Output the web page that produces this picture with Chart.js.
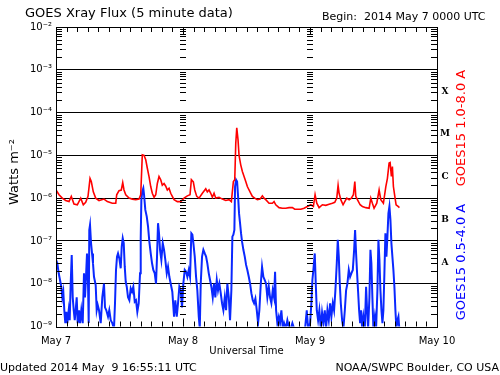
<!DOCTYPE html>
<html><head><meta charset="utf-8">
<script src="https://cdn.jsdelivr.net/npm/chart.js@4/dist/chart.umd.min.js"></script>
<style>html,body{margin:0;padding:0;background:#fff}</style>
</head><body>
<canvas id="c" width="500" height="375"></canvas>
<script>
// ---- labels / ticks ----
const dayLabels = ['May 7', 'May 8', 'May 9', 'May 10'];
const decadeTicks = [1e-9, 1e-8, 1e-7, 1e-6, 1e-5, 1e-4, 1e-3, 1e-2];
const flareClassNames = ['X', 'M', 'C', 'B', 'A'];
const flareClassLower = [1e-4, 1e-5, 1e-6, 1e-7, 1e-8];

// ---- GOES15 1.0-8.0 A (long channel), hours since 2014 May 7 00:00 UTC ----
const longTime = [
 0.00,0.57,1.19,1.83,2.46,2.89,3.40,4.03,4.67,5.16,
 5.61,6.05,6.43,6.67,7.05,7.50,8.13,9.07,9.70,10.64,
 11.29,11.47,11.91,12.34,12.61,12.85,13.18,13.80,14.42,15.07,
 15.69,16.01,16.31,16.64,16.96,17.26,17.58,17.90,18.20,18.53,
 18.85,19.15,19.47,19.79,20.09,20.42,20.74,21.04,21.36,21.68,
 21.98,22.31,22.93,23.57,24.20,24.82,25.33,25.58,25.95,26.22,
 26.60,27.03,27.66,28.30,28.60,28.92,29.24,29.55,29.87,30.19,
 30.81,31.44,32.08,32.70,33.14,33.52,33.78,33.97,34.16,34.40,
 34.59,34.91,35.22,35.54,35.86,36.16,36.48,36.81,37.11,37.56,
 38.05,38.56,39.00,39.32,39.64,40.26,40.89,41.21,41.53,42.15,
 42.78,43.42,44.05,44.67,45.12,45.61,46.26,46.88,47.50,48.15,
 48.64,48.96,49.28,49.72,50.34,50.98,51.61,52.23,52.68,53.06,
 53.31,53.50,53.82,54.25,54.57,54.95,55.39,55.82,56.20,56.47,
 56.65,56.96,57.47,57.90,58.55,59.17,59.49,59.79,60.11,60.62,
 61.06,61.38,61.87,62.33,62.63,62.95,63.14,63.38,63.57,63.76,
 64.03,64.27,64.65,64.90
];
const longFlux = [
 1.56e-6,1.2e-6,1.0e-6,0.88e-6,0.83e-6,1.1e-6,0.73e-6,0.7e-6,1.0e-6,0.7e-6,
 0.8e-6,1.1e-6,2.9e-6,2.45e-6,1.4e-6,1.0e-6,0.88e-6,0.95e-6,0.83e-6,0.76e-6,
 0.76e-6,1.2e-6,1.5e-6,1.55e-6,2.3e-6,1.55e-6,1.2e-6,1.0e-6,0.95e-6,0.92e-6,
 0.95e-6,1.2e-6,1.03e-5,1.0e-5,7.9e-6,5.0e-6,3.2e-6,1.87e-6,1.3e-6,1.05e-6,
 1.2e-6,2.2e-6,3.2e-6,2.7e-6,2.0e-6,2.2e-6,1.9e-6,1.55e-6,1.7e-6,1.3e-6,
 1.1e-6,0.92e-6,0.83e-6,0.83e-6,1.0e-6,1.13e-6,1.2e-6,2.7e-6,2.4e-6,1.55e-6,
 1.1e-6,1.0e-6,1.3e-6,1.65e-6,1.4e-6,1.55e-6,1.3e-6,1.05e-6,1.3e-6,1.0e-6,
 1.05e-6,0.95e-6,0.88e-6,0.92e-6,0.83e-6,2.45e-6,2.7e-6,1.9e-5,4.4e-5,2.3e-5,
 1.0e-5,6.0e-6,4.2e-6,3.2e-6,2.45e-6,1.87e-6,1.55e-6,1.3e-6,1.1e-6,1.0e-6,
 0.92e-6,0.95e-6,1.13e-6,1.0e-6,0.92e-6,0.76e-6,0.76e-6,0.83e-6,0.7e-6,0.6e-6,
 0.58e-6,0.58e-6,0.6e-6,0.6e-6,0.55e-6,0.55e-6,0.55e-6,0.58e-6,0.64e-6,0.7e-6,
 0.64e-6,1.2e-6,0.76e-6,0.6e-6,0.7e-6,0.68e-6,0.72e-6,0.76e-6,0.8e-6,1.0e-6,
 2.0e-6,1.3e-6,0.92e-6,0.7e-6,0.83e-6,1.0e-6,0.92e-6,1.0e-6,1.2e-6,2.45e-6,
 1.1e-6,0.92e-6,0.7e-6,0.64e-6,0.6e-6,0.58e-6,1.0e-6,0.76e-6,0.58e-6,0.76e-6,
 1.55e-6,0.92e-6,0.76e-6,1.87e-6,2.9e-6,6.6e-6,6.8e-6,3.2e-6,5.5e-6,1.87e-6,
 1.1e-6,0.7e-6,0.64e-6,0.6e-6
];

// ---- GOES15 0.5-4.0 A (short channel) ----
const shortTime = [
 0.00,0.25,0.51,0.76,1.00,1.19,1.38,1.57,1.76,1.95,
 2.14,2.40,2.59,2.78,2.97,3.16,3.35,3.54,3.72,3.91,
 4.10,4.35,4.54,4.78,5.05,5.29,5.48,5.67,5.86,6.05,
 6.18,6.29,6.43,6.62,6.81,6.99,7.18,7.50,7.69,7.88,
 8.13,8.45,8.75,9.07,9.26,9.51,9.83,10.07,10.34,10.64,
 10.96,11.15,11.34,11.53,11.72,11.97,12.23,12.42,12.61,12.80,
 12.99,13.18,13.37,13.61,13.86,14.12,14.37,14.61,14.88,15.12,
 15.37,15.63,15.88,16.01,16.13,16.31,16.50,16.64,16.88,17.15,
 17.39,17.64,17.90,18.15,18.39,18.66,18.90,19.09,19.28,19.47,
 19.66,19.91,20.17,20.42,20.66,20.93,21.17,21.42,21.68,21.98,
 22.31,22.55,22.82,23.06,23.31,23.57,23.82,24.06,24.33,24.58,
 24.82,25.09,25.33,25.58,25.77,25.96,26.22,26.47,26.71,26.98,
 27.17,27.35,27.60,27.85,28.11,28.36,28.60,28.87,29.11,29.36,
 29.62,29.87,30.11,30.38,30.62,30.87,31.13,31.38,31.63,31.89,
 32.14,32.38,32.65,32.89,33.14,33.33,33.52,33.71,33.84,34.03,
 34.22,34.41,34.59,34.78,34.97,35.16,35.41,35.67,35.92,36.16,
 36.43,36.68,36.92,37.18,37.43,37.68,37.94,38.19,38.43,38.70,
 38.94,39.19,39.45,39.70,39.94,40.21,40.45,40.70,40.96,41.21,
 41.40,41.59,41.83,42.10,42.34,42.59,42.86,43.10,43.42,43.72,
 44.05,44.37,44.67,44.99,45.37,45.94,46.50,47.07,47.39,47.64,
 48.02,48.26,48.45,48.64,48.90,49.09,49.28,49.53,49.77,50.04,
 50.28,50.53,50.79,51.04,51.29,51.55,51.80,52.04,52.31,52.55,
 52.80,53.06,53.25,53.44,53.63,53.82,54.07,54.31,54.58,54.82,
 55.07,55.33,55.58,55.82,56.09,56.34,56.52,56.71,56.90,57.09,
 57.28,57.47,57.66,57.85,58.09,58.36,58.60,58.79,58.98,59.23,
 59.42,59.60,59.79,59.98,60.25,60.49,60.74,60.93,61.12,61.31,
 61.50,61.69,61.87,62.06,62.25,62.44,62.63,62.82,63.01,63.20,
 63.38,63.57,63.76,63.95,64.14,64.33,64.52,64.71,64.90
];
const shortFlux = [
 3.6e-8,3.0e-8,1.75e-8,1.22e-8,8.5e-9,4.8e-9,6.5e-9,2.4e-9,1.2e-9,2.2e-9,
 1.2e-9,2.4e-9,1.4e-9,1.02e-8,4.7e-8,4.8e-9,2.4e-9,1.4e-9,2.4e-9,4.8e-9,
 1.2e-9,2.4e-9,1.2e-9,2.4e-9,1.2e-9,1.75e-8,4.8e-9,1.45e-8,5.1e-8,1.0e-8,
 1.2e-9,1.8e-7,2.36e-7,8.9e-8,5.1e-8,3.0e-8,1.45e-8,9.3e-9,2.4e-9,3.2e-9,
 2.4e-9,1.2e-9,4.8e-9,1.0e-8,2.8e-9,2.4e-9,1.7e-9,2.4e-9,1.4e-9,1.2e-9,
 0.9e-9,3.5e-9,2.1e-8,4.3e-8,5.1e-8,3.9e-8,2.3e-8,7.4e-8,1.16e-7,8.9e-8,
 2.5e-8,1.1e-8,8.5e-9,4.8e-9,4.1e-9,7.8e-9,6.5e-9,8.5e-9,3.8e-9,4.1e-9,
 2.2e-9,3.5e-9,1.75e-8,1.16e-7,9.1e-7,1.43e-6,1.7e-6,1.2e-6,5.3e-7,3.7e-7,
 2.2e-7,9.6e-8,5.1e-8,3.0e-8,2.1e-8,1.75e-8,1.0e-8,4.3e-8,2.6e-7,1.5e-7,
 6.2e-8,3.6e-8,8.9e-8,6.2e-8,3.6e-8,1.75e-8,2.5e-8,1.45e-8,1.0e-8,6.5e-9,
 1.7e-9,4.1e-9,1.7e-9,3.5e-9,8.5e-9,7e-9,2.8e-9,1.0e-8,2.1e-8,1.9e-8,
 1.45e-8,2.1e-8,1.45e-8,1.5e-7,1.4e-7,8.9e-8,4.3e-8,1.45e-8,7e-9,1.7e-9,
 0.9e-9,1.0e-8,4.3e-8,6.2e-8,5.1e-8,4.3e-8,3.0e-8,1.75e-8,1.22e-8,8.5e-9,
 4.8e-9,1.0e-8,4.8e-9,1.22e-8,7e-9,1.0e-8,6e-9,3.5e-9,2.4e-9,4.8e-9,
 2.4e-9,1.0e-8,4.8e-9,1.4e-9,7e-9,1.26e-7,1.4e-7,1.8e-7,1.87e-6,2.7e-6,
 2.45e-6,1.1e-6,4.4e-7,2.6e-7,1.5e-7,9.6e-8,6.2e-8,4.3e-8,2.75e-8,2.1e-8,
 1.45e-8,1.0e-8,6e-9,4.1e-9,3.5e-9,4.5e-9,2.4e-9,1.2e-9,2.4e-9,1.0e-8,
 2.5e-8,1.45e-8,1.22e-8,1.0e-8,4.8e-9,8.5e-9,4.8e-9,3.5e-9,7e-9,4.8e-9,
 1.9e-8,2.4e-9,1.2e-9,1.7e-9,1.2e-9,2.4e-9,0.9e-9,1.2e-9,0.9e-9,1.4e-9,
 0.9e-9,0.9e-9,1.2e-9,0.9e-9,0.85e-9,0.9e-9,0.85e-9,0.9e-9,2.4e-9,0.9e-9,
 1.2e-9,3.5e-9,1.22e-8,2.1e-8,5.1e-8,1.0e-8,2.4e-9,1.4e-9,2.4e-9,0.9e-9,
 2.1e-9,1.2e-9,2.4e-9,0.9e-9,2.4e-9,1.4e-9,3.5e-9,1.7e-9,3.5e-9,2.4e-9,
 7e-9,3.0e-8,1.06e-7,4.3e-8,1.0e-8,3.5e-9,1.4e-9,0.9e-9,2.4e-9,7e-9,
 1.0e-8,2.1e-8,1.45e-8,1.75e-8,2.1e-8,6.2e-8,1.8e-7,5.1e-8,1.75e-8,6.5e-9,
 2.4e-9,1.2e-9,2.4e-9,0.9e-9,1.7e-9,0.9e-9,8.5e-9,2.4e-9,0.9e-9,4.8e-9,
 6.2e-8,3.0e-8,4.8e-9,0.9e-9,1.7e-9,0.9e-9,7e-9,1.06e-7,3.6e-8,7e-9,
 2.4e-9,1.2e-9,2.4e-9,1.75e-8,1.5e-7,4.3e-8,1.26e-7,4.4e-7,6.4e-7,3.1e-7,
 8.9e-8,4.3e-8,2.1e-8,8.5e-9,2.4e-9,0.9e-9,1.4e-9,1.7e-9,0.8e-9
];

const SUP = {'-':'\u207B','0':'\u2070','1':'\u00B9','2':'\u00B2','3':'\u00B3','4':'\u2074','5':'\u2075','6':'\u2076','7':'\u2077','8':'\u2078','9':'\u2079'};
function pow10Label(v){
  const e = String(Math.round(Math.log10(v)));
  return '10' + e.split('').map(c => SUP[c]).join('');
}
const FONT = '"DejaVu Sans", "Liberation Sans", sans-serif';

const decorations = {
  id: 'decorations',
  afterDraw(chart) {
    const ctx = chart.ctx, a = chart.chartArea;
    const xs = chart.scales.x, ys = chart.scales.y;
    ctx.save();
    ctx.strokeStyle = '#000';
    ctx.lineWidth = 1;
    // frame
    ctx.strokeRect(Math.round(a.left) + 0.5, Math.round(a.top) + 0.5,
                   Math.round(a.right - a.left), Math.round(a.bottom - a.top));
    // minor log ticks, inside the frame and at day boundaries
    ctx.beginPath();
    for (let e = -9; e < -2; e++) {
      for (let m = 2; m <= 9; m++) {
        const y = Math.round(ys.getPixelForValue(m * Math.pow(10, e))) + 0.5;
        ctx.moveTo(a.left, y); ctx.lineTo(a.left + 6, y);
        ctx.moveTo(a.right - 6, y); ctx.lineTo(a.right, y);
        for (let d = 24; d < 72; d += 24) {
          const x = xs.getPixelForValue(d);
          ctx.moveTo(x - 3, y); ctx.lineTo(x + 3, y);
        }
      }
    }
    // time ticks on top and bottom
    for (let h = 0; h <= 72; h += 2) {
      const x = Math.round(xs.getPixelForValue(h)) + 0.5;
      const len = (h % 24 === 0) ? 8 : 5;
      ctx.moveTo(x, a.top); ctx.lineTo(x, a.top + len);
      ctx.moveTo(x, a.bottom); ctx.lineTo(x, a.bottom - len);
    }
    ctx.stroke();

    ctx.fillStyle = '#000';
    ctx.textBaseline = 'middle';
    // title line
    ctx.font = '13px ' + FONT;
    ctx.textAlign = 'left';
    ctx.fillText('GOES Xray Flux (5 minute data)', 25, 14);
    ctx.font = '11px ' + FONT;
    ctx.fillText('Begin:  2014 May 7 0000 UTC', 322, 17);
    // footer
    ctx.fillText('Updated 2014 May  9 16:55:11 UTC', 0, 368);
    ctx.textAlign = 'right';
    ctx.fillText('NOAA/SWPC Boulder, CO USA', 499, 368);
    ctx.textAlign = 'center';
    ctx.font = '10px ' + FONT;
    ctx.fillText('Universal Time', (a.left + a.right) / 2, 351);
    // y title
    ctx.save();
    ctx.translate(15, 172);
    ctx.rotate(-Math.PI / 2);
    ctx.font = '13px ' + FONT;
    ctx.fillText('Watts m\u207B\u00B2', 0, 0);
    ctx.restore();
    // flare classes
    ctx.font = 'bold 9px "DejaVu Serif", "Liberation Serif", serif';
    flareClassNames.forEach((n, i) => {
      const y = ys.getPixelForValue(flareClassLower[i] * Math.sqrt(10));
      ctx.fillText(n, a.right + 8, y);
    });
    // channel labels
    ctx.font = '13px ' + FONT;
    ctx.save();
    ctx.translate(462, 128);
    ctx.rotate(-Math.PI / 2);
    ctx.fillStyle = '#ff0000';
    ctx.fillText('GOES15 1.0-8.0 A', 0, 0);
    ctx.restore();
    ctx.save();
    ctx.translate(462, 262);
    ctx.rotate(-Math.PI / 2);
    ctx.fillStyle = '#0000ff';
    ctx.fillText('GOES15 0.5-4.0 A', 0, 0);
    ctx.restore();
    ctx.restore();
  }
};

new Chart(document.getElementById('c'), {
  type: 'line',
  data: {
    datasets: [
      { label: 'GOES15 1.0-8.0 A', data: longTime.map((t, i) => ({x: t, y: longFlux[i]})),
        borderColor: '#ff0000', borderWidth: 1.6, pointRadius: 0, tension: 0 },
      { label: 'GOES15 0.5-4.0 A', data: shortTime.map((t, i) => ({x: t, y: shortFlux[i]})),
        borderColor: '#0a28ff', borderWidth: 2, pointRadius: 0, tension: 0 }
    ]
  },
  options: {
    responsive: false,
    animation: false,
    devicePixelRatio: 1,
    layout: { padding: { left: 0, right: 63, top: 27, bottom: 28.5 } },
    plugins: { legend: { display: false }, tooltip: { enabled: false }, title: { display: false } },
    scales: {
      x: {
        type: 'linear', min: 0, max: 72,
        afterFit: s => { s.height = 20; },
        afterBuildTicks: s => { s.ticks = [0, 24, 48, 72].map(v => ({value: v})); },
        ticks: { callback: v => dayLabels[Math.round(v / 24)], color: '#000', padding: 1,
                 maxRotation: 0, autoSkip: false, font: { family: FONT, size: 10 } },
        grid: { display: false },
        border: { display: false }
      },
      y: {
        type: 'logarithmic', min: 1e-9, max: 1e-2,
        afterFit: s => { s.width = 56; },
        afterBuildTicks: s => { s.ticks = decadeTicks.map(v => ({value: v})); },
        ticks: { callback: v => pow10Label(v), color: '#000', padding: 4, autoSkip: false,
                 font: { family: FONT, size: 10 } },
        grid: { drawTicks: false, lineWidth: 1,
                color: c => (c.tick && (c.tick.value === 1e-9 || c.tick.value === 1e-2)) ? 'rgba(0,0,0,0)' : '#000' },
        border: { display: false }
      }
    }
  },
  plugins: [decorations]
});
</script>
</body></html>
